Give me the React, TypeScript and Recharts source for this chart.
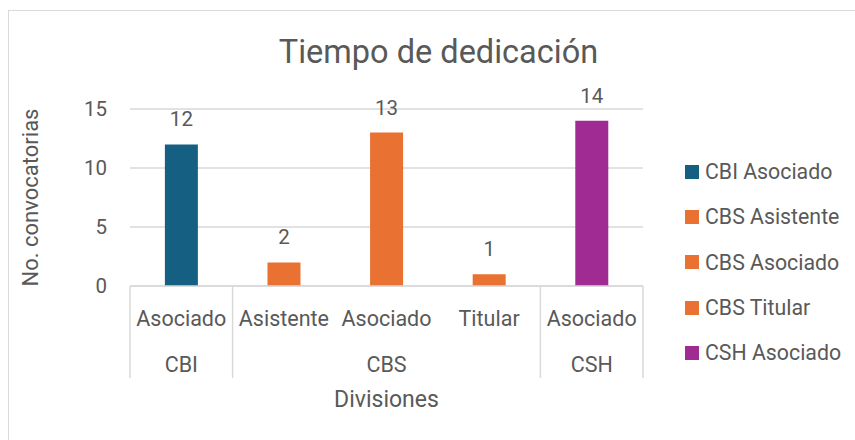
import React from "react";
import { BarChart, Bar, XAxis, YAxis, CartesianGrid, Cell, LabelList, Legend } from "recharts";

const divisions = ["CBI", "CBS", "CBS", "CBS", "CSH"];
const roles = ["Asociado", "Asistente", "Asociado", "Titular", "Asociado"];
const values = [12, 2, 13, 1, 14];
const colors = ["#156082", "#E97132", "#E97132", "#E97132", "#A02B93"];
const yTicks = [0, 5, 10, 15];
const title = "Tiempo de dedicación";
const yTitle = "No. convocatorias";
const xTitle = "Divisiones";

const data = roles.map((r, i) => ({
  key: `${divisions[i]} ${r}`,
  division: divisions[i],
  role: r,
  value: values[i],
  color: colors[i],
}));

const W = 855;
const H = 440;
const M = { top: 109, right: 212, bottom: 62, left: 70 };
const Y_W = 60;
const X_H = 92;
const PLOT_W = W - M.left - Y_W - M.right;
const FONT = "Roboto, 'Liberation Sans', sans-serif";
const TXT = "#595959";
const LINE = "#D9D9D9";

const CatTick = (props: any) => {
  const { x, y, index } = props;
  const band = PLOT_W / data.length;
  const d = data[index];
  const els: any[] = [];
  els.push(
    <text key="r" x={x} y={y + 32} textAnchor="middle" dominantBaseline="central" fill={TXT} fontSize={21.5} fontFamily={FONT}>
      {d.role}
    </text>
  );
  const prev = index > 0 ? data[index - 1].division : null;
  const next = index < data.length - 1 ? data[index + 1].division : null;
  if (prev !== d.division) {
    els.push(<line key="l" x1={x - band / 2} x2={x - band / 2} y1={y} y2={y + X_H} stroke={LINE} strokeWidth={1.5} />);
  }
  if (next === null) {
    els.push(<line key="rr" x1={x + band / 2} x2={x + band / 2} y1={y} y2={y + X_H} stroke={LINE} strokeWidth={1.5} />);
  }
  let start = index;
  while (start > 0 && data[start - 1].division === d.division) start--;
  let end = index;
  while (end < data.length - 1 && data[end + 1].division === d.division) end++;
  if (index === start) {
    const cx = x + ((end - start) * band) / 2;
    els.push(
      <text key="g" x={cx} y={y + 78} textAnchor="middle" dominantBaseline="central" fill={TXT} fontSize={21.5} fontFamily={FONT}>
        {d.division}
      </text>
    );
  }
  return <g>{els}</g>;
};

const LegendContent = () => (
  <div style={{ fontFamily: FONT, fontSize: 21.3, color: TXT }}>
    {data.map((d) => (
      <div key={d.key} style={{ display: "flex", alignItems: "center", height: 45.3 }}>
        <div style={{ width: 14, height: 14, background: d.color, marginRight: 6 }} />
        <span style={{ whiteSpace: "nowrap" }}>{d.key}</span>
      </div>
    ))}
  </div>
);

export default function App() {
  return (
    <div style={{ position: "fixed", left: 0, top: 0, width: W, height: H, background: "#fff", overflow: "hidden" }}>
      <div style={{ position: "absolute", left: 8, top: 10, width: 870, height: 460, border: `1px solid ${LINE}`, boxSizing: "border-box" }} />
      <div style={{ position: "absolute", left: 0, top: 30, width: W, textAlign: "center", fontFamily: FONT, fontSize: 32.5, color: TXT, lineHeight: "44px", paddingLeft: 22, boxSizing: "border-box" }}>
        {title}
      </div>
      <div style={{ position: "absolute", left: 0, top: 0 }}>
        <BarChart width={W} height={H} data={data} margin={M} barCategoryGap="34%">
          <CartesianGrid vertical={false} stroke={LINE} strokeWidth={1.5} />
          <XAxis
            dataKey="key"
            height={X_H}
            axisLine={{ stroke: LINE, strokeWidth: 1.5 }}
            tickLine={false}
            tickSize={0}
            tickMargin={0}
            interval={0}
            tick={<CatTick />}
            label={{ value: xTitle, position: "bottom", offset: 13, fill: TXT, fontSize: 23, fontFamily: FONT }}
          />
          <YAxis
            width={Y_W}
            domain={[0, 15]}
            ticks={yTicks}
            axisLine={false}
            tickLine={false}
            tickSize={0}
            tickMargin={23}
            tick={{ fill: TXT, fontSize: 20.5, fontFamily: FONT }}
            label={{ value: yTitle, angle: -90, position: "insideLeft", offset: -40, fill: TXT, fontSize: 22, fontFamily: FONT, style: { textAnchor: "middle" } }}
          />
          <Legend
            layout="vertical"
            align="center"
            verticalAlign="middle"
            content={<LegendContent />}
            wrapperStyle={{ left: 685, top: 149, width: 170 }}
          />
          <Bar dataKey="value" isAnimationActive={false}>
            {data.map((d) => (
              <Cell key={d.key} fill={d.color} />
            ))}
            <LabelList dataKey="value" position="top" offset={18} fill={TXT} fontSize={20.5} fontFamily={FONT} />
          </Bar>
        </BarChart>
      </div>
    </div>
  );
}
